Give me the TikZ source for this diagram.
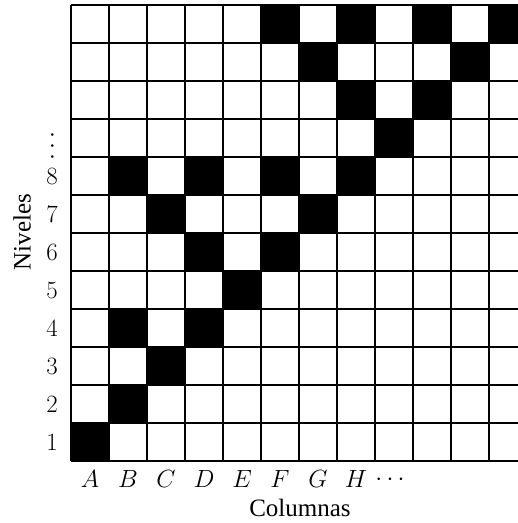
\documentclass[tikz,border=0pt]{standalone}
\usepackage{fontspec}
\newfontfamily\tnr{Liberation Serif}
\begin{document}
\begin{tikzpicture}[x=1pt,y=-1pt,
  lab/.style={inner sep=0pt,font=\fontsize{23}{27}\selectfont},
  word/.style={inner sep=0pt,font=\fontsize{25}{29}\selectfont\tnr},
  gridline/.style={line width=1.5pt,black}]
\useasboundingbox (0,0) rectangle (518,523);
\begin{scope}
\clip (0,0) rectangle (518,523);
\foreach \c/\r in {1/1,2/2,3/3,2/4,4/4,5/5,4/6,6/6,3/7,7/7,2/8,4/8,6/8,8/8,9/9,8/10,10/10,7/11,11/11,6/12,8/12,10/12,12/12}
  \fill[black] ({71+38*(\c-1)},{461-38*\r}) rectangle ++(38,38);
\foreach \i in {0,...,12}
  \draw[gridline] ({71+38*\i},5) -- ({71+38*\i},461);
\foreach \j in {0,...,12}
  \draw[gridline] (71,{5+38*\j}) -- (527,{5+38*\j});
\end{scope}
\foreach \r in {1,...,8}
  \node[lab] (n\r) at (52,{461-38*\r+19}) {$\r$};
\node[lab,rotate=90] (vd) at (53,146) {$\cdots$};
\foreach \l [count=\k] in {A,B,C,D,E,F,G,H}
  \node[lab] (c\k) at ({71+38*\k-19},479) {$\l$};
\node[lab] (hd) at (390,480) {$\cdots$};
\node[word] (col) at (300,508) {Columnas};
\node[word,rotate=90] (niv) at (22,232) {Niveles};
\end{tikzpicture}
\end{document}
